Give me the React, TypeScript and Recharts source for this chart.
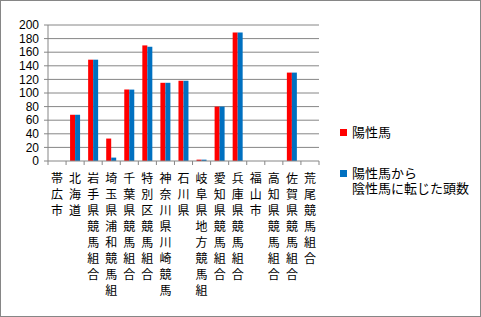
import { BarChart, Bar, XAxis, YAxis, CartesianGrid } from 'recharts';

const categories = [
    '帯広市',
    '北海道',
    '岩手県競馬組合',
    '埼玉県浦和競馬組合',
    '千葉県競馬組合',
    '特別区競馬組合',
    '神奈川県川崎競馬組合',
    '石川県',
    '岐阜県地方競馬組合',
    '愛知県競馬組合',
    '兵庫県競馬組合',
    '福山市',
    '高知県競馬組合',
    '佐賀県競馬組合',
    '荒尾競馬組合'
];
const positive = [0, 68, 149, 33, 105, 170, 115, 118, 2, 80, 189, 0, 0, 130, 0];
const turnedNegative = [0, 68, 149, 5, 105, 168, 115, 118, 2, 80, 189, 0, 0, 130, 0];
const yTicks = [0, 20, 40, 60, 80, 100, 120, 140, 160, 180, 200];
const seriesNames = ['陽性馬', '陽性馬から\n陰性馬に転じた頭数'];
const seriesColors = ['#FF0000', '#0070C0'];

const data = categories.map((name, i) => ({
    name,
    positive: positive[i],
    turnedNegative: turnedNegative[i]
}));

const FONT = '"Noto Sans CJK JP", sans-serif';
const NUM_FONT = '"Liberation Sans", Arial, sans-serif';
const GRID = '#868686';
const PLOT_W = 271;
const band = PLOT_W / categories.length;

// category names are written top-to-bottom, one character per row (max 8 rows)
const VerticalTick = ({ x, payload, index }: any) => {
    const chars = String(payload.value).slice(0, 8).split('');
    const axisY = 160;
    return (
        <g>
            <line x1={x - band / 2} y1={axisY} x2={x - band / 2} y2={axisY + 4} stroke={GRID} />
            {index === categories.length - 1 && (
                <line x1={x + band / 2} y1={axisY} x2={x + band / 2} y2={axisY + 4} stroke={GRID} />
            )}
            {chars.map((c, i) => (
                <text
                    key={i}
                    x={x}
                    y={axisY + 16 + i * 16.1}
                    textAnchor="middle"
                    dominantBaseline="central"
                    fontSize={12}
                    fontFamily={FONT}
                    fill="#000"
                >
                    {c}
                </text>
            ))}
        </g>
    );
};

const ChartLegend = () => (
    <div
        style={{
            position: 'absolute',
            left: 339,
            top: 123,
            fontFamily: FONT,
            fontSize: 13,
            color: '#000'
        }}
    >
        {seriesNames.map((name, i) => (
            <div key={i} style={{ display: 'flex', alignItems: 'flex-start', marginBottom: i === 0 ? 26 : 0 }}>
                <span
                    style={{
                        display: 'inline-block',
                        width: 7,
                        height: 7,
                        background: seriesColors[i],
                        marginTop: 5,
                        marginRight: 5
                    }}
                />
                <span style={{ whiteSpace: 'pre', lineHeight: '15px' }}>{name}</span>
            </div>
        ))}
    </div>
);

export default function App() {
    return (
        <div
            style={{
                position: 'fixed',
                left: 0,
                top: 0,
                width: 481,
                height: 317,
                boxSizing: 'border-box',
                border: `1px solid ${GRID}`,
                background: '#fff'
            }}
        >
            <BarChart
                width={479}
                height={315}
                data={data}
                margin={{ top: 24, right: 161, left: 0, bottom: 0 }}
                barSize={5}
                barGap={0}
            >
                <CartesianGrid vertical={false} stroke={GRID} horizontalValues={yTicks.slice(1)} />
                <XAxis
                    dataKey="name"
                    interval={0}
                    height={155}
                    axisLine={{ stroke: GRID }}
                    tickLine={false}
                    tick={<VerticalTick />}
                />
                <YAxis
                    domain={[0, 200]}
                    ticks={yTicks}
                    interval={0}
                    width={47}
                    axisLine={{ stroke: GRID }}
                    tickLine={{ stroke: GRID }}
                    tickSize={4}
                    tickMargin={5}
                    tick={{ fontSize: 12, fontFamily: NUM_FONT, fill: '#000' }}
                />
                <Bar dataKey="positive" name={seriesNames[0]} fill={seriesColors[0]} isAnimationActive={false} />
                <Bar dataKey="turnedNegative" name={seriesNames[1]} fill={seriesColors[1]} isAnimationActive={false} />
            </BarChart>
            <ChartLegend />
        </div>
    );
}
